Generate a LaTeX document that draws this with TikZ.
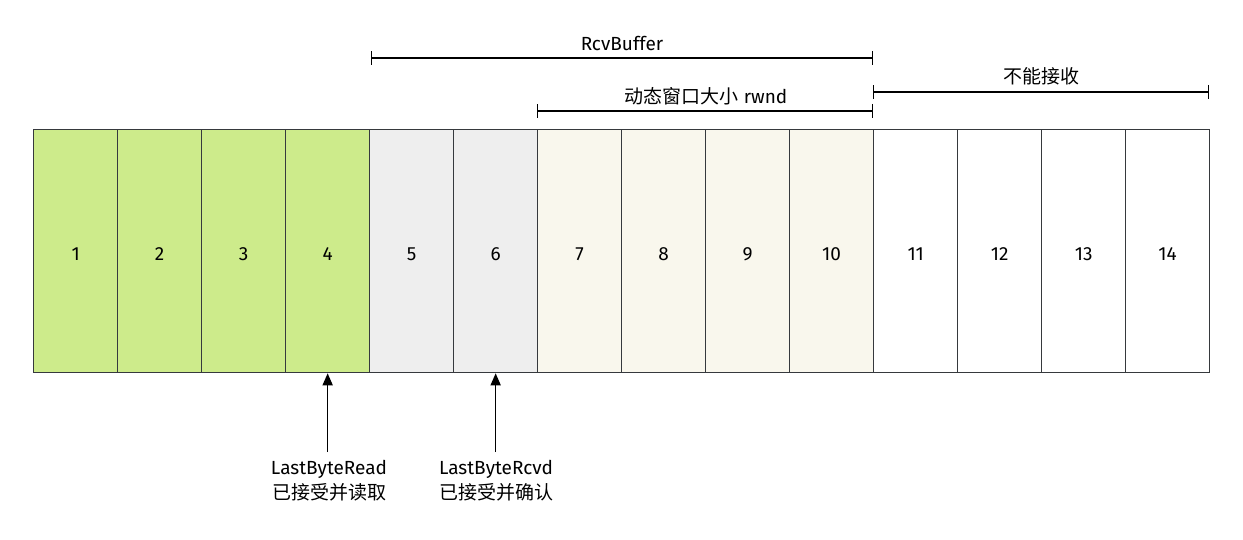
\documentclass[tikz,border=0pt]{standalone}
\usepackage{fontspec}
\setmainfont{Fira Sans}
\newfontfamily\cjk{Noto Sans CJK SC}
\usetikzlibrary{arrows.meta}
\definecolor{greenfill}{HTML}{CDEB8B}
\definecolor{grayfill}{HTML}{EEEEEE}
\definecolor{beigefill}{HTML}{F9F7ED}
\definecolor{edge}{HTML}{36393D}
\tikzset{
  cell/.style={draw=edge, line width=1.3pt, minimum width=84pt, minimum height=243pt, inner sep=0pt, anchor=north west},
  celltext/.style={font=\fontsize{19}{23}\selectfont, yshift=-3pt},
  bracket/.style={draw=black, line width=1.2pt, {Bar[width=14pt]}-{Bar[width=14pt]}},
  lbl/.style={font=\fontsize{19}{25}\selectfont, inner sep=1pt},
  ptr/.style={draw=black, line width=1.6pt, -{Triangle[width=10pt,length=12pt]}}
}
\begin{document}
\begin{tikzpicture}[x=1pt,y=-1pt]
\useasboundingbox (0,0) rectangle (1243,540);
\foreach \i/\c in {1/greenfill,2/greenfill,3/greenfill,4/greenfill,5/grayfill,6/grayfill,7/beigefill,8/beigefill,9/beigefill,10/beigefill,11/white,12/white,13/white,14/white}{
  \node[cell, fill=\c, label={[celltext]center:\i}] (c\i) at ({33+84*(\i-1)},129) {};
}
% brackets
\coordinate (rb1) at (371,58);
\coordinate (rb2) at (873,58);
\draw[bracket] (rb1) -- (rb2);
\node[lbl] (trb) at (622,43) {RcvBuffer};
\coordinate (rw1) at (537,111);
\coordinate (rw2) at (873,111);
\draw[bracket] (rw1) -- (rw2);
\node[lbl] (trw) at (706,96) {{\cjk 动态窗口大小} rwnd};
\coordinate (nr1) at (873,92);
\coordinate (nr2) at (1209,92);
\draw[bracket] (nr1) -- (nr2);
\node[lbl] (tnr) at (1041,76) {\cjk 不能接收};
% pointers
\node[lbl, align=center, anchor=north] (lread) at (329,459) {LastByteRead\\{\cjk 已接受并读取}};
\node[lbl, align=center, anchor=north] (lrcvd) at (496,459) {LastByteRcvd\\{\cjk 已接受并确认}};
\draw[ptr] ([yshift=7pt]lread.north -| c4.south) -- (c4.south);
\draw[ptr] ([yshift=7pt]lrcvd.north -| c6.south) -- (c6.south);
\end{tikzpicture}
\end{document}
